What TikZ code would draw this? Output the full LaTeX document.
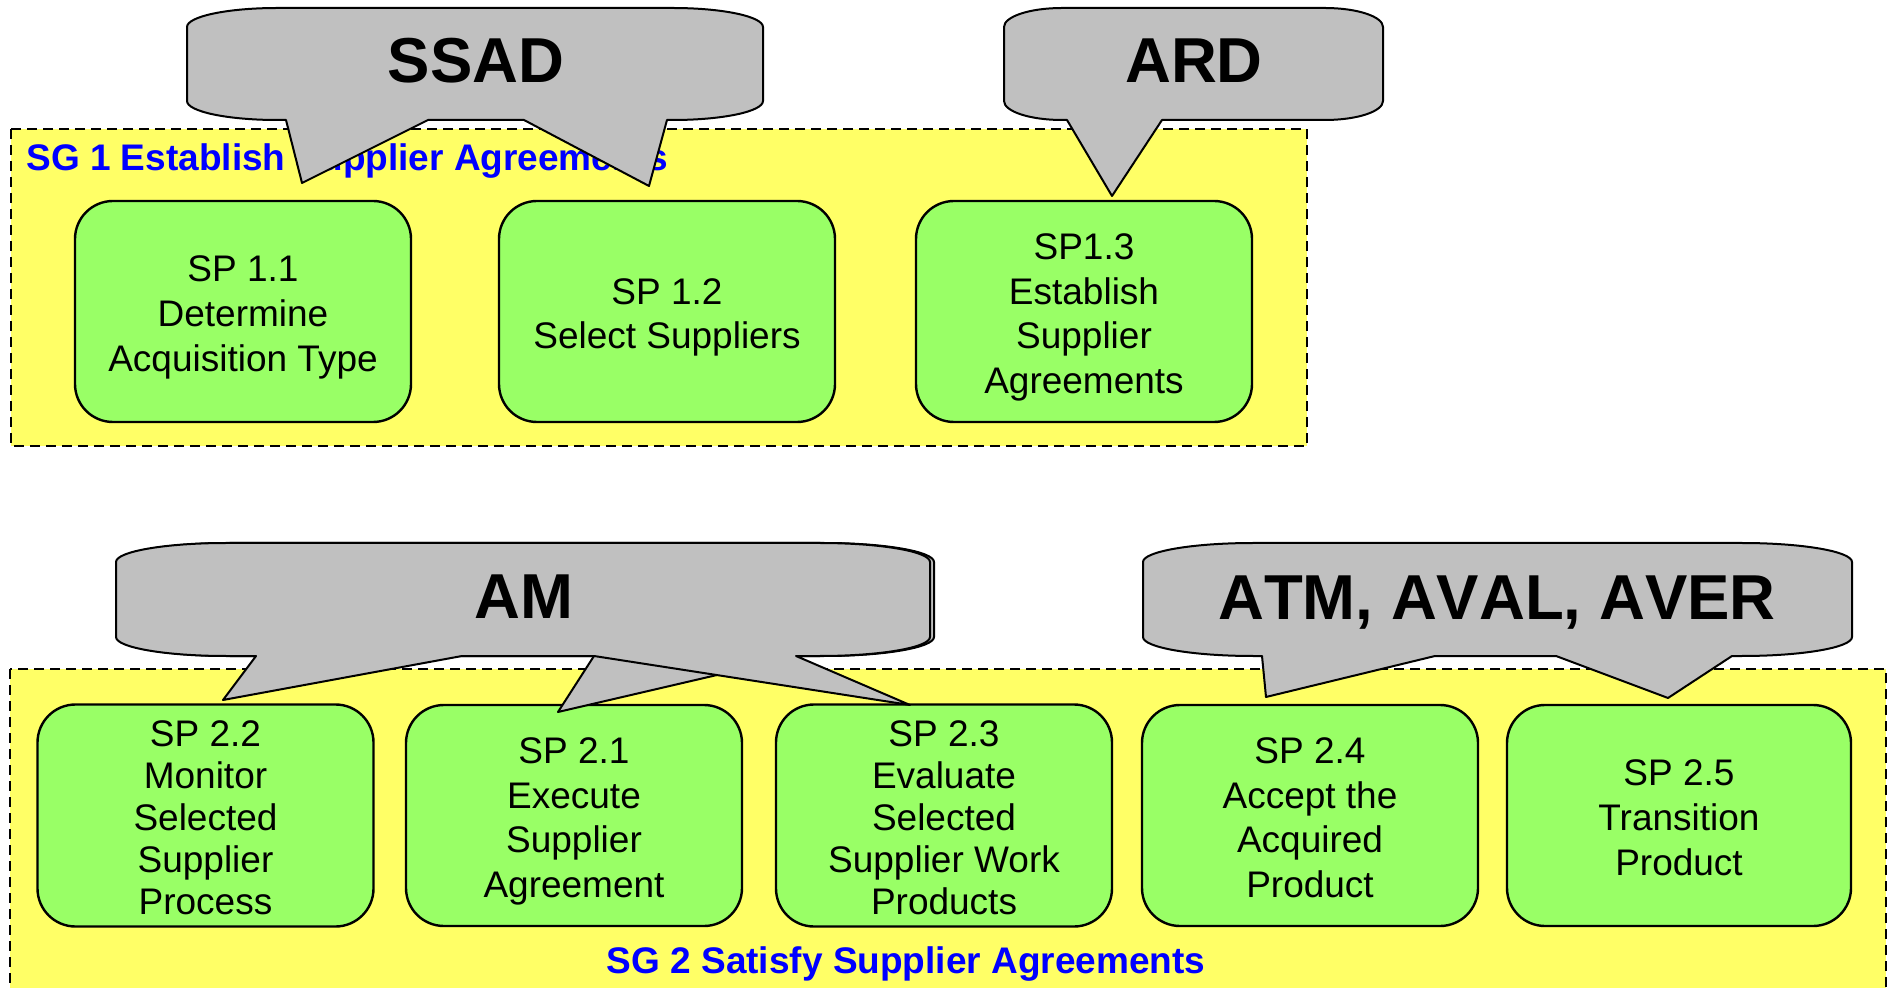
\documentclass[tikz,border=0pt]{standalone}
\usepackage{fontspec}
\setmainfont{Liberation Sans}
\usetikzlibrary{positioning}
\definecolor{goalyellow}{RGB}{255,255,102}
\definecolor{spgreen}{RGB}{153,255,102}
\definecolor{bubblegrey}{RGB}{192,192,192}
\tikzset{
goalbox/.style={draw=black, fill=goalyellow, line width=1pt, dash pattern=on 5pt off 3pt},
goallabel/.style={text=blue, font=\fontsize{18.5}{22}\selectfont\bfseries, inner sep=0pt},
spbox/.style={rectangle, rounded corners=19pt, draw=black, fill=spgreen, line width=1.2pt, outer sep=0pt, minimum width=168pt, minimum height=110.5pt, align=center, inner sep=2pt, font=\fontsize{18.5}{22.3}\selectfont,
  execute at end node=\rule[-4pt]{0pt}{4pt}},
tightbox/.style={spbox, font=\fontsize{18.5}{21}\selectfont},
bubble/.style={draw=black, fill=bubblegrey, line width=1pt, line join=round},
bubbletext/.style={font=\fontsize{31.75}{38}\selectfont\bfseries\addfontfeatures{Kerning=Off}, inner sep=0pt, anchor=base}
}
\newcommand{\sptop}{\rule{0pt}{19pt}}
%% callout: corner radius, left, top, right, bottom, pointers (right to left)
\newcommand{\bubble}[6]{%
\path[bubble] (#2+#1,#3) -- (#4-#1,#3)
  .. controls (#4-0.45*#1,#3) and (#4,#3+8.5) .. (#4,#3+19) -- (#4,#5-19)
  .. controls (#4,#5-8.5) and (#4-0.45*#1,#5) .. (#4-#1,#5) #6 -- (#2+#1,#5)
  .. controls (#2+0.45*#1,#5) and (#2,#5-8.5) .. (#2,#5-19) -- (#2,#3+19)
  .. controls (#2,#3+8.5) and (#2+0.45*#1,#3) .. (#2+#1,#3) -- cycle;}

\begin{document}
\begin{tikzpicture}[x=0.5pt,y=-0.5pt]
\useasboundingbox (0,0) rectangle (1890,988);
%Goals
\draw[goalbox] (11,129) rectangle (1307,446);
\draw[goalbox] (10,669) rectangle (1886,1010);
\node[goallabel, anchor=base west] (sg1) at (26,171) {SG 1 Establish Supplier Agreements};
\node[goallabel, anchor=base] (sg2) at (906,973) {SG 2 Satisfy Supplier Agreements};

%Practices
\node[spbox] (sp11) at (243,311.5) {\sptop SP 1.1\\Determine\\Acquisition Type};
\node[spbox, right=44pt of sp11] (sp12) {\sptop SP 1.2\\Select Suppliers};
\node[spbox, right=40.5pt of sp12] (sp13) {\sptop SP1.3\\Establish\\Supplier\\Agreements};
\node[tightbox] (sp22) at (205.5,815.5) {\sptop SP 2.2\\Monitor\\Selected\\Supplier\\Process};
\node[spbox, right=16.25pt of sp22] (sp21) {\sptop SP 2.1\\Execute\\Supplier\\Agreement};
\node[tightbox, right=17pt of sp21] (sp23) {\sptop SP 2.3\\Evaluate\\Selected\\Supplier Work\\Products};
\node[spbox, right=15pt of sp23] (sp24) {\sptop SP 2.4\\Accept the\\Acquired\\Product};
\node[spbox, minimum width=172pt, right=14.5pt of sp24] (sp25) {\sptop SP 2.5\\Transition\\Product};

%Callouts
\bubble{90}{187}{8}{763}{120}{-- (667,120) -- (649,186) -- (524,120) -- (428,120) -- (302,183) -- (286,120)}
\bubble{58}{1004}{8}{1383}{120}{-- (1162,120) -- (1112,196) -- (1067,120)}
\bubble{110}{120}{543}{934}{656}{}
\path[fill=bubblegrey] (594,656) -- (558,712) -- (717,675) -- cycle;
\draw[line width=1pt, line join=round] (594,656) -- (558,712) -- (717,675);
\bubble{110}{116}{543}{930}{656}{-- (796,656) -- (910,705) -- (594,656) -- (462,656) -- (223,700) -- (256,656)}
\bubble{110}{1143}{543}{1852}{656}{-- (1732,656) -- (1668,698) -- (1556,656) -- (1435,656) -- (1266,697) -- (1262,656)}
\node[bubbletext] (ssad) at (476,83) {SSAD};
\node[bubbletext] (ard) at (1194,83) {ARD};
\node[bubbletext] (am) at (524,618) {AM};
\node[bubbletext] (atm) at (1497,620) {ATM, AVAL, AVER};
\end{tikzpicture}
\end{document}
